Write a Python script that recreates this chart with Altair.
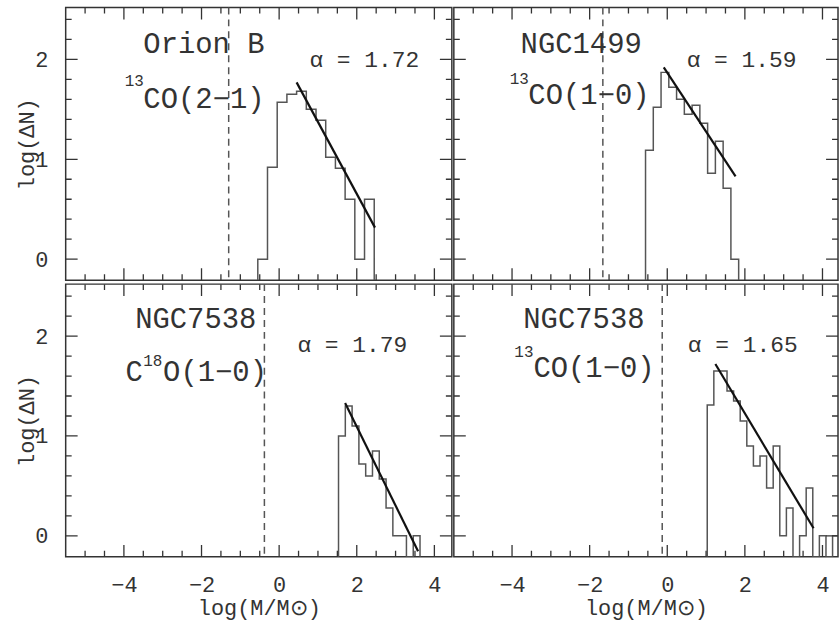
import altair as alt
import pandas as pd

FONT = "Liberation Mono"
TXT = "#333333"

# ---------------- data ----------------
PANELS = ["tl", "tr", "bl", "br"]

# histogram bins: first edge, bin width, log(dN) per bin (None = empty bin)
HIST_START = {"tl": -0.55, "tr": -0.56, "bl": 1.53, "br": 1.03}
HIST_WIDTH = {"tl": 0.25, "tr": 0.20, "bl": 0.175, "br": 0.17}
TL_LOGN = [0.0, 0.92, 1.57, 1.65, 1.68, 1.50, 1.39, 1.02, 0.91, 0.60, 0.0, 0.60]
TR_LOGN = [1.09, 1.52, 1.87, 1.72, 1.60, 1.45, 1.54, 1.36, 0.86, 1.18, 0.71, 0.0]
BL_LOGN = [1.0, 1.30, 1.10, 0.72, 0.60, 0.85, 0.57, 0.28, 0.0, 0.0, None, 0.0]
BR_LOGN = [1.31, 1.65, 1.65, 1.45, 1.35, 1.15, 0.90, 0.70, 0.80, 0.48, 0.90, 0.0,
           0.28, None, 0.0, 0.48, None, 0.0, None, 0.0]
HIST_LOGN = {"tl": TL_LOGN, "tr": TR_LOGN, "bl": BL_LOGN, "br": BR_LOGN}

# power-law fits: start x, start y, end x, alpha
FIT_X0 = {"tl": 0.45, "tr": -0.09, "bl": 1.70, "br": 1.24}
FIT_Y0 = {"tl": 1.77, "tr": 1.92, "bl": 1.33, "br": 1.72}
FIT_X1 = {"tl": 2.47, "tr": 1.76, "bl": 3.58, "br": 3.77}
ALPHA = {"tl": 1.72, "tr": 1.59, "bl": 1.79, "br": 1.65}

# completeness limit (dashed line)
LIMIT = {"tl": -1.30, "tr": -1.66, "bl": -0.38, "br": -0.13}

# labels
NAME = {"tl": "Orion B", "tr": "NGC1499", "bl": "NGC7538", "br": "NGC7538"}
NAME_XY = {"tl": (-3.50, 2.15), "tr": (-3.78, 2.15), "bl": (-3.71, 2.17), "br": (-3.71, 2.17)}
LINE_PARTS = {
    "tl": [("sup", "13", -3.98, 1.78), ("main", "CO(2−1)", -3.50, 1.60)],
    "tr": [("sup", "13", -4.06, 1.80), ("main", "CO(1−0)", -3.58, 1.64)],
    "bl": [("main", "C", -3.96, 1.64), ("sup", "18", -3.50, 1.75), ("main", "O(1−0)", -2.99, 1.64)],
    "br": [("sup", "13", -3.94, 1.84), ("main", "CO(1−0)", -3.45, 1.68)],
}
ALPHA_XY = {"tl": (0.78, 1.99), "tr": (0.50, 1.99), "bl": (0.47, 1.91), "br": (0.53, 1.91)}

X_MAJOR = [-4, -2, 0, 2, 4]
X_MINOR = [-5.0, -4.5, -3.5, -3.0, -2.5, -1.5, -1.0, -0.5, 0.5, 1.0, 1.5, 2.5, 3.0, 3.5]
Y_MAJOR = [0, 1, 2]
Y_MINOR = [0.2, 0.4, 0.6, 0.8, 1.2, 1.4, 1.6, 1.8, 2.2, 2.4]

# ---------------- layout ----------------
W_L, W_R, H = 388, 386, 274
Y_DOM = [-0.21, 2.52]
X_DOM = {"tl": [-5.5, 4.45], "bl": [-5.5, 4.45], "tr": [-5.5, 4.4], "br": [-5.5, 4.4]}
WIDTH = {"tl": W_L, "bl": W_L, "tr": W_R, "br": W_R}
MAJOR_PX, MINOR_PX = 12, 6


def step_df(key):
    start, w, vals = HIST_START[key], HIST_WIDTH[key], HIST_LOGN[key]
    base = Y_DOM[0]
    xs, ys = [start], [base]
    for i, v in enumerate(vals):
        h = base if v is None else v
        xs += [start + i * w, start + (i + 1) * w]
        ys += [h, h]
    xs.append(start + len(vals) * w)
    ys.append(base)
    return pd.DataFrame({"x": xs, "y": ys, "i": range(len(xs))})


def tick_df(key):
    """Inward tick segments on all four sides; lengths given in pixels."""
    W = WIDTH[key]
    xdom = X_DOM[key]
    ypx = (Y_DOM[1] - Y_DOM[0]) / H
    xpx = (xdom[1] - xdom[0]) / W
    rows = []
    k = 0
    for vals, ln in ((X_MAJOR, MAJOR_PX), (X_MINOR, MINOR_PX)):
        for v in vals:
            for edge, sgn in ((Y_DOM[0], 1), (Y_DOM[1], -1)):
                rows.append({"x": v, "y": edge, "id": k, "i": 0})
                rows.append({"x": v, "y": edge + sgn * ln * ypx, "id": k, "i": 1})
                k += 1
    for vals, ln in ((Y_MAJOR, MAJOR_PX), (Y_MINOR, MINOR_PX)):
        for v in vals:
            for edge, sgn in ((xdom[0], 1), (xdom[1], -1)):
                rows.append({"x": edge, "y": v, "id": k, "i": 0})
                rows.append({"x": edge + sgn * ln * xpx, "y": v, "id": k, "i": 1})
                k += 1
    return pd.DataFrame(rows)


def panel(key, show_x, show_y):
    W = WIDTH[key]
    xdom = X_DOM[key]
    if show_x:
        xaxis = alt.Axis(values=X_MAJOR, ticks=False, domain=False, grid=False,
                         labelFont=FONT, labelFontSize=22, labelColor=TXT,
                         labelPadding=18, labelFlush=False, labelOverlap=False,
                         title="log(M/M⊙)", titleFont=FONT, titleFontSize=22,
                         titleFontWeight="normal", titleColor=TXT,
                         titleX=W / 2, titleY=51, titleAlign="center",
                         titleBaseline="middle")
    else:
        xaxis = None
    if show_y:
        yaxis = alt.Axis(values=Y_MAJOR, ticks=False, domain=False, grid=False,
                         labelFont=FONT, labelFontSize=22, labelColor=TXT,
                         labelPadding=18, labelFlush=False, labelOverlap=False,
                         title="log(ΔN)", titleFont=FONT, titleFontSize=22,
                         titleFontWeight="normal", titleColor=TXT,
                         titleX=-39, titleY=H / 2, titleAngle=270,
                         titleAlign="center", titleBaseline="middle")
    else:
        yaxis = None

    xs = alt.Scale(domain=xdom, nice=False, zero=False)
    ys = alt.Scale(domain=Y_DOM, nice=False, zero=False)

    def X(f="x"):
        return alt.X(f"{f}:Q", scale=xs, axis=xaxis)

    def Y(f="y"):
        return alt.Y(f"{f}:Q", scale=ys, axis=yaxis)

    hist = alt.Chart(step_df(key)).mark_line(
        color="#555555", strokeWidth=1.5, clip=True
    ).encode(x=X(), y=Y(), order="i:Q")

    x0, y0, x1, a = FIT_X0[key], FIT_Y0[key], FIT_X1[key], ALPHA[key]
    fit_df = pd.DataFrame({"x": [x0, x1], "y": [y0, y0 + (1 - a) * (x1 - x0)]})
    fit = alt.Chart(fit_df).mark_line(color="#111111", strokeWidth=2.2, clip=True).encode(
        x=X(), y=Y())

    lim = alt.Chart(pd.DataFrame({"x": [LIMIT[key]]})).mark_rule(
        color="#555555", strokeWidth=1.5, strokeDash=[7, 5]
    ).encode(x=X())

    ticks = alt.Chart(tick_df(key)).mark_line(
        color="#333333", strokeWidth=1.3, clip=True
    ).encode(x=X(), y=Y(), detail="id:N", order="i:Q")

    layers = [hist, fit, lim, ticks]

    # labels
    main_rows = [{"x": NAME_XY[key][0], "y": NAME_XY[key][1], "t": NAME[key]}]
    sup_rows = []
    for kind, t, x, y in LINE_PARTS[key]:
        (main_rows if kind == "main" else sup_rows).append({"x": x, "y": y, "t": t})
    layers.append(alt.Chart(pd.DataFrame(main_rows)).mark_text(
        align="left", baseline="middle", font=FONT, fontSize=29, color=TXT
    ).encode(x=X(), y=Y(), text="t:N"))
    layers.append(alt.Chart(pd.DataFrame(sup_rows)).mark_text(
        align="left", baseline="middle", font=FONT, fontSize=16, color=TXT
    ).encode(x=X(), y=Y(), text="t:N"))
    a_df = pd.DataFrame({"x": [ALPHA_XY[key][0]], "y": [ALPHA_XY[key][1]],
                         "t": [f"α = {ALPHA[key]:.2f}"]})
    layers.append(alt.Chart(a_df).mark_text(
        align="left", baseline="middle", font=FONT, fontSize=23, color=TXT
    ).encode(x=X(), y=Y(), text="t:N"))

    return alt.layer(*layers).properties(width=W, height=H)


tl = panel("tl", False, True)
tr = panel("tr", False, False)
bl = panel("bl", True, True)
br = panel("br", True, False)

chart = alt.concat(tl, tr, bl, br, columns=2, spacing=0).properties(
    padding={"left": 15, "top": 4, "right": 0, "bottom": 0},
    background="white",
).configure_view(stroke="#333333", strokeWidth=1.5)

chart.save("out.html", embed_options={"renderer": "svg", "actions": False})
